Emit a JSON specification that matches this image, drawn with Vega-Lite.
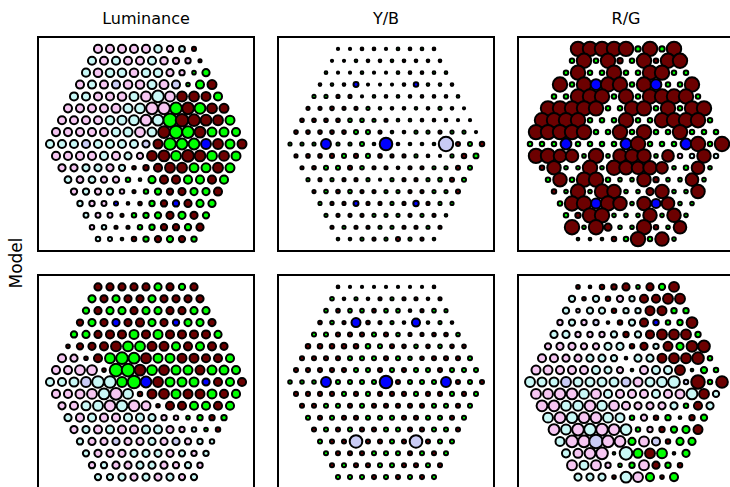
{
"$schema": "https://vega.github.io/schema/vega-lite/v6.json",
"padding": {"left": 8, "top": 11, "right": 0, "bottom": 0},
"background": "white",
"data": {"values": [
{"r":0,"x":-4,"t":"L","a":-9,"b":2.5,"c":16,"d":8,"e":3,"f":4},
{"r":0,"x":-3,"t":"L","a":-9,"b":2.5,"c":16,"d":8,"e":2.5,"f":3},
{"r":0,"x":-2,"t":"L","a":-9,"b":3,"c":16,"d":8,"e":2.5,"f":5},
{"r":0,"x":-1,"t":"L","a":-9,"b":3,"c":16,"d":8,"e":2.5,"f":6},
{"r":0,"x":0,"t":"L","a":-9,"b":2.5,"c":16,"d":8,"e":2.5,"f":8},
{"r":0,"x":1,"t":"M","a":-8.5,"b":3,"c":6,"d":8,"e":2.5,"f":4},
{"r":0,"x":2,"t":"L","a":-7,"b":3,"c":16,"d":8,"e":2.5,"f":8},
{"r":0,"x":3,"t":"M","a":-6.5,"b":3,"c":6,"d":7,"e":2.5,"f":7},
{"r":0,"x":4,"t":"L","a":4.5,"b":3,"c":16,"d":8,"e":3,"f":11},
{"r":1,"x":-4.5,"t":"M","a":-9,"b":2.5,"c":5,"d":8,"e":4,"f":-7},
{"r":1,"x":-3.5,"t":"L","a":-9,"b":2.5,"c":16,"d":8,"e":3,"f":4},
{"r":1,"x":-2.5,"t":"M","a":-9,"b":3,"c":5,"d":8,"e":3.5,"f":-7},
{"r":1,"x":-1.5,"t":"L","a":-9,"b":3,"c":16,"d":8,"e":3,"f":5},
{"r":1,"x":-0.5,"t":"L","a":-9,"b":3,"c":6,"d":8,"e":3.5,"f":-7},
{"r":1,"x":0.5,"t":"M","a":-9,"b":3,"c":5,"d":8,"e":3.5,"f":-6},
{"r":1,"x":1.5,"t":"L","a":-8.5,"b":3,"c":16,"d":8,"e":3.5,"f":9},
{"r":1,"x":2.5,"t":"L","a":-7,"b":3,"c":5,"d":8,"e":3.5,"f":9},
{"r":1,"x":3.5,"t":"L","a":-6,"b":3,"c":16,"d":8,"e":3,"f":11},
{"r":1,"x":4.5,"t":"L","a":3.5,"b":3,"c":16,"d":8,"e":3.5,"f":11},
{"r":2,"x":-5,"t":"M","a":-9,"b":3,"c":5,"d":7,"e":4,"f":-7},
{"r":2,"x":-4,"t":"L","a":-9.5,"b":2.5,"c":16,"d":8,"e":4,"f":-4},
{"r":2,"x":-3,"t":"M","a":-9.5,"b":2.5,"c":5,"d":8,"e":4,"f":-7},
{"r":2,"x":-2,"t":"M","a":-9.5,"b":3,"c":5,"d":8,"e":4,"f":-7},
{"r":2,"x":-1,"t":"L","a":-9.5,"b":2.5,"c":16,"d":8,"e":4,"f":5},
{"r":2,"x":0,"t":"M","a":-9.5,"b":2.5,"c":5,"d":8,"e":4,"f":-6},
{"r":2,"x":1,"t":"M","a":-9.5,"b":3,"c":5,"d":8,"e":4,"f":-6},
{"r":2,"x":2,"t":"L","a":-8,"b":3,"c":16,"d":8,"e":3,"f":10},
{"r":2,"x":3,"t":"L","a":-6,"b":3,"c":16,"d":8,"e":3.5,"f":10},
{"r":2,"x":4,"t":"M","a":4,"b":3,"c":5,"d":8,"e":4,"f":6},
{"r":2,"x":5,"t":"M","a":8,"b":3,"c":5,"d":8,"e":3.5,"f":6},
{"r":3,"x":-5.5,"t":"L","a":-9,"b":3,"c":16,"d":7,"e":4,"f":-6},
{"r":3,"x":-4.5,"t":"M","a":-9,"b":3,"c":5,"d":8,"e":4,"f":-7},
{"r":3,"x":-3.5,"t":"L","a":-9,"b":3,"c":16,"d":8,"e":3.5,"f":-6},
{"r":3,"x":-2.5,"t":"S","a":-9,"b":5.5,"c":12,"d":8,"e":10,"f":-6},
{"r":3,"x":-1.5,"t":"L","a":-9.5,"b":2.5,"c":16,"d":8,"e":4,"f":3},
{"r":3,"x":-0.5,"t":"L","a":-9.5,"b":2.5,"c":16,"d":9,"e":3.5,"f":5},
{"r":3,"x":0.5,"t":"M","a":-10,"b":2.5,"c":5,"d":8,"e":3.5,"f":-7},
{"r":3,"x":1.5,"t":"L","a":-10,"b":3,"c":16,"d":8,"e":3,"f":9},
{"r":3,"x":2.5,"t":"S","a":-9,"b":5,"c":12,"d":7,"e":9,"f":6},
{"r":3,"x":3.5,"t":"M","a":4,"b":3,"c":5,"d":8,"e":3,"f":5},
{"r":3,"x":4.5,"t":"M","a":9,"b":3,"c":5,"d":8,"e":3.5,"f":6},
{"r":3,"x":5.5,"t":"L","a":10,"b":3,"c":16,"d":8,"e":3,"f":12},
{"r":4,"x":-6,"t":"M","a":-9,"b":3.5,"c":5,"d":7,"e":4.5,"f":-8},
{"r":4,"x":-5,"t":"M","a":-9,"b":3.5,"c":5,"d":8,"e":4.5,"f":-8},
{"r":4,"x":-4,"t":"L","a":-9,"b":3.5,"c":16,"d":8,"e":4.5,"f":-6},
{"r":4,"x":-3,"t":"L","a":-9,"b":3.5,"c":16,"d":9,"e":4.5,"f":-6},
{"r":4,"x":-2,"t":"L","a":-9.5,"b":2.5,"c":16,"d":9,"e":4.5,"f":-6},
{"r":4,"x":-1,"t":"M","a":-10,"b":3,"c":5,"d":10,"e":4.5,"f":-7},
{"r":4,"x":0,"t":"L","a":-11,"b":3,"c":16,"d":9,"e":4.5,"f":6},
{"r":4,"x":1,"t":"M","a":-13,"b":3,"c":5,"d":10,"e":4,"f":-7},
{"r":4,"x":2,"t":"L","a":-11,"b":3,"c":16,"d":9,"e":3.5,"f":9},
{"r":4,"x":3,"t":"L","a":11,"b":3,"c":16,"d":9,"e":3.5,"f":11},
{"r":4,"x":4,"t":"L","a":11,"b":3,"c":16,"d":9,"e":4,"f":11},
{"r":4,"x":5,"t":"L","a":10,"b":3,"c":16,"d":9,"e":4,"f":11},
{"r":4,"x":6,"t":"M","a":9,"b":3,"c":5,"d":8,"e":4,"f":6},
{"r":5,"x":-6.5,"t":"L","a":-9,"b":3.5,"c":16,"d":4,"e":5,"f":-7},
{"r":5,"x":-5.5,"t":"L","a":-9,"b":3.5,"c":16,"d":7,"e":5,"f":-8},
{"r":5,"x":-4.5,"t":"L","a":-9,"b":4,"c":16,"d":8,"e":5,"f":-8},
{"r":5,"x":-3.5,"t":"L","a":-9,"b":3.5,"c":16,"d":9,"e":5,"f":-7},
{"r":5,"x":-2.5,"t":"L","a":-10,"b":3.5,"c":16,"d":11,"e":5,"f":-7},
{"r":5,"x":-1.5,"t":"M","a":-10,"b":3.5,"c":5,"d":11,"e":5,"f":-8},
{"r":5,"x":-0.5,"t":"M","a":-11,"b":3,"c":5,"d":11,"e":4.5,"f":-8},
{"r":5,"x":0.5,"t":"L","a":-13,"b":3,"c":16,"d":10,"e":4.5,"f":5},
{"r":5,"x":1.5,"t":"L","a":-13,"b":3,"c":16,"d":10,"e":4,"f":8},
{"r":5,"x":2.5,"t":"M","a":13,"b":3,"c":5,"d":9,"e":4,"f":-6},
{"r":5,"x":3.5,"t":"L","a":13,"b":3,"c":16,"d":9,"e":4,"f":10},
{"r":5,"x":4.5,"t":"M","a":12,"b":3.5,"c":5,"d":9,"e":4,"f":8},
{"r":5,"x":5.5,"t":"L","a":11,"b":3,"c":16,"d":9,"e":4,"f":12},
{"r":5,"x":6.5,"t":"L","a":10,"b":2.5,"c":16,"d":8,"e":4,"f":13},
{"r":6,"x":-7,"t":"L","a":-9,"b":4,"c":16,"d":-9,"e":4.5,"f":-9},
{"r":6,"x":-6,"t":"L","a":-9,"b":4,"c":16,"d":-8,"e":4.5,"f":-9},
{"r":6,"x":-5,"t":"L","a":-9,"b":4,"c":16,"d":4,"e":4.5,"f":-8},
{"r":6,"x":-4,"t":"L","a":-9,"b":4,"c":16,"d":9,"e":4.5,"f":-8},
{"r":6,"x":-3,"t":"M","a":-9.5,"b":4,"c":5,"d":11,"e":4.5,"f":-8},
{"r":6,"x":-2,"t":"M","a":-10,"b":4,"c":5,"d":13,"e":4.5,"f":-8},
{"r":6,"x":-1,"t":"M","a":-11,"b":3.5,"c":5,"d":12,"e":4.5,"f":-7},
{"r":6,"x":0,"t":"L","a":-12,"b":3.5,"c":16,"d":11,"e":4.5,"f":3},
{"r":6,"x":1,"t":"M","a":-12,"b":3,"c":5,"d":10,"e":4.5,"f":-8},
{"r":6,"x":2,"t":"M","a":15,"b":3,"c":5,"d":10,"e":4,"f":-8},
{"r":6,"x":3,"t":"L","a":14,"b":3,"c":16,"d":10,"e":4,"f":10},
{"r":6,"x":4,"t":"L","a":13,"b":3,"c":16,"d":10,"e":4.5,"f":11},
{"r":6,"x":5,"t":"L","a":12,"b":3,"c":16,"d":9,"e":4.5,"f":11},
{"r":6,"x":6,"t":"L","a":11,"b":2.5,"c":16,"d":9,"e":4.5,"f":13},
{"r":6,"x":7,"t":"M","a":10,"b":2.5,"c":5,"d":9,"e":4.5,"f":5},
{"r":7,"x":-7.5,"t":"L","a":-9,"b":4,"c":16,"d":-9,"e":4.5,"f":-10},
{"r":7,"x":-6.5,"t":"L","a":-9,"b":4,"c":16,"d":-9,"e":4.5,"f":-10},
{"r":7,"x":-5.5,"t":"L","a":-9,"b":4,"c":16,"d":-11,"e":4.5,"f":-9},
{"r":7,"x":-4.5,"t":"L","a":-9,"b":4,"c":16,"d":-11,"e":4.5,"f":-9},
{"r":7,"x":-3.5,"t":"L","a":-9,"b":4,"c":16,"d":4,"e":4.5,"f":-9},
{"r":7,"x":-2.5,"t":"M","a":-9.5,"b":4.5,"c":5,"d":14,"e":4.5,"f":-9},
{"r":7,"x":-1.5,"t":"M","a":-10,"b":4.5,"c":5,"d":14,"e":4.5,"f":-8},
{"r":7,"x":-0.5,"t":"L","a":-11,"b":3.5,"c":16,"d":12,"e":4.5,"f":-7},
{"r":7,"x":0.5,"t":"M","a":-10,"b":3,"c":5,"d":11,"e":4.5,"f":3},
{"r":7,"x":1.5,"t":"L","a":13,"b":3,"c":16,"d":11,"e":4.5,"f":-9},
{"r":7,"x":2.5,"t":"M","a":14,"b":3.5,"c":5,"d":10,"e":4.5,"f":-9},
{"r":7,"x":3.5,"t":"M","a":13,"b":3.5,"c":5,"d":10,"e":4.5,"f":-9},
{"r":7,"x":4.5,"t":"L","a":12,"b":3.5,"c":16,"d":10,"e":4.5,"f":11},
{"r":7,"x":5.5,"t":"M","a":10,"b":3.5,"c":5,"d":10,"e":4.5,"f":3},
{"r":7,"x":6.5,"t":"M","a":10,"b":3.5,"c":5,"d":10,"e":4.5,"f":7},
{"r":7,"x":7.5,"t":"M","a":9,"b":2.5,"c":5,"d":9,"e":4.5,"f":5},
{"r":8,"x":-8,"t":"M","a":-9,"b":3.5,"c":5,"d":-9,"e":4,"f":-11},
{"r":8,"x":-7,"t":"M","a":-9,"b":3.5,"c":5,"d":-9,"e":4,"f":-10},
{"r":8,"x":-6,"t":"M","a":-9,"b":3.5,"c":5,"d":-10,"e":4,"f":-10},
{"r":8,"x":-5,"t":"S","a":-9,"b":11,"c":12,"d":-11,"e":11,"f":-11},
{"r":8,"x":-4,"t":"M","a":-9,"b":3.5,"c":5,"d":-13,"e":4.5,"f":-10},
{"r":8,"x":-3,"t":"M","a":-9,"b":3.5,"c":5,"d":-13,"e":4.5,"f":-10},
{"r":8,"x":-2,"t":"M","a":-9,"b":4.5,"c":5,"d":11,"e":4.5,"f":-10},
{"r":8,"x":-1,"t":"M","a":-9,"b":3,"c":5,"d":14,"e":4.5,"f":-10},
{"r":8,"x":0,"t":"S","a":-8,"b":14,"c":12,"d":12,"e":14,"f":-10},
{"r":8,"x":1,"t":"L","a":10,"b":3,"c":16,"d":11,"e":4.5,"f":-10},
{"r":8,"x":2,"t":"M","a":13,"b":3,"c":5,"d":10,"e":4.5,"f":-10},
{"r":8,"x":3,"t":"M","a":12,"b":3,"c":5,"d":10,"e":4.5,"f":-11},
{"r":8,"x":4,"t":"M","a":12,"b":3,"c":5,"d":10,"e":4.5,"f":-13},
{"r":8,"x":5,"t":"S","a":11,"b":-16,"c":12,"d":8,"e":11,"f":-5},
{"r":8,"x":6,"t":"L","a":11,"b":4.5,"c":16,"d":9,"e":4.5,"f":15},
{"r":8,"x":7,"t":"M","a":10,"b":4.5,"c":5,"d":9,"e":4.5,"f":5},
{"r":8,"x":8,"t":"L","a":10,"b":5,"c":16,"d":9,"e":4.5,"f":13},
{"r":9,"x":-7.5,"t":"L","a":-9,"b":3.5,"c":16,"d":-9,"e":4.5,"f":-11},
{"r":9,"x":-6.5,"t":"L","a":-9,"b":4,"c":16,"d":-9,"e":4.5,"f":-11},
{"r":9,"x":-5.5,"t":"L","a":-9,"b":4,"c":14,"d":-10,"e":4.5,"f":-12},
{"r":9,"x":-4.5,"t":"L","a":-9,"b":4.5,"c":14,"d":-11,"e":4.5,"f":-12},
{"r":9,"x":-3.5,"t":"M","a":-9,"b":4.5,"c":4,"d":-12,"e":4.5,"f":-11},
{"r":9,"x":-2.5,"t":"L","a":-9,"b":4.5,"c":16,"d":-13,"e":4.5,"f":-11},
{"r":9,"x":-1.5,"t":"M","a":-8,"b":4.5,"c":4,"d":-11,"e":4.5,"f":-9},
{"r":9,"x":-0.5,"t":"L","a":-7,"b":4,"c":15,"d":5,"e":4.5,"f":-9},
{"r":9,"x":0.5,"t":"L","a":11,"b":3.5,"c":15,"d":10,"e":4.5,"f":-9},
{"r":9,"x":1.5,"t":"L","a":12,"b":3.5,"c":15,"d":11,"e":4.5,"f":-9},
{"r":9,"x":2.5,"t":"M","a":11,"b":3.5,"c":4,"d":10,"e":4.5,"f":-9},
{"r":9,"x":3.5,"t":"L","a":13,"b":3,"c":13,"d":10,"e":4.5,"f":-9},
{"r":9,"x":4.5,"t":"L","a":12,"b":2.5,"c":-5,"d":10,"e":4.5,"f":-10},
{"r":9,"x":5.5,"t":"M","a":11,"b":3.5,"c":-5,"d":10,"e":4.5,"f":-12},
{"r":9,"x":6.5,"t":"L","a":11,"b":5,"c":15,"d":9,"e":4.5,"f":11},
{"r":9,"x":7.5,"t":"M","a":10,"b":5.5,"c":-5,"d":9,"e":4.5,"f":-7},
{"r":10,"x":-7,"t":"L","a":-8,"b":3.5,"c":5,"d":-8,"e":4.5,"f":-12},
{"r":10,"x":-6,"t":"L","a":-8,"b":4,"c":15,"d":-9,"e":4.5,"f":-12},
{"r":10,"x":-5,"t":"M","a":-8,"b":4.5,"c":4,"d":-10,"e":4.5,"f":-11},
{"r":10,"x":-4,"t":"M","a":-8,"b":4.5,"c":4,"d":-11,"e":4.5,"f":-11},
{"r":10,"x":-3,"t":"L","a":-8,"b":4.5,"c":16,"d":-12,"e":4.5,"f":-12},
{"r":10,"x":-2,"t":"M","a":-7,"b":4,"c":4,"d":-12,"e":4.5,"f":-11},
{"r":10,"x":-1,"t":"L","a":4,"b":3.5,"c":16,"d":-12,"e":4.5,"f":-11},
{"r":10,"x":0,"t":"L","a":6,"b":3.5,"c":15,"d":-10,"e":4.5,"f":-9},
{"r":10,"x":1,"t":"L","a":9,"b":3,"c":14,"d":4,"e":4.5,"f":-8},
{"r":10,"x":2,"t":"L","a":11,"b":3.5,"c":15,"d":9,"e":4.5,"f":-8},
{"r":10,"x":3,"t":"L","a":11,"b":3.5,"c":13,"d":9,"e":4.5,"f":-8},
{"r":10,"x":4,"t":"M","a":10,"b":3.5,"c":4,"d":9,"e":4.5,"f":-8},
{"r":10,"x":5,"t":"M","a":10,"b":3.5,"c":5,"d":9,"e":4.5,"f":5},
{"r":10,"x":6,"t":"L","a":11,"b":4.5,"c":14,"d":9,"e":4.5,"f":9},
{"r":10,"x":7,"t":"M","a":10,"b":4.5,"c":4,"d":9,"e":4.5,"f":-8},
{"r":11,"x":-6.5,"t":"M","a":-7.5,"b":3.5,"c":5,"d":-8,"e":4.5,"f":-11},
{"r":11,"x":-5.5,"t":"L","a":-7.5,"b":3.5,"c":15,"d":-9,"e":4.5,"f":-12},
{"r":11,"x":-4.5,"t":"M","a":-7.5,"b":3.5,"c":5,"d":-9,"e":4.5,"f":-12},
{"r":11,"x":-3.5,"t":"L","a":-7,"b":3.5,"c":16,"d":-9,"e":4.5,"f":-12},
{"r":11,"x":-2.5,"t":"L","a":-7,"b":3.5,"c":16,"d":-9,"e":4.5,"f":-12},
{"r":11,"x":-1.5,"t":"M","a":5,"b":3.5,"c":5,"d":-9,"e":4.5,"f":-11},
{"r":11,"x":-0.5,"t":"M","a":3,"b":2.5,"c":4,"d":-9,"e":4.5,"f":-10},
{"r":11,"x":0.5,"t":"M","a":8,"b":3.5,"c":4,"d":-8,"e":4.5,"f":5},
{"r":11,"x":1.5,"t":"L","a":9,"b":3.5,"c":15,"d":-6,"e":4.5,"f":-7},
{"r":11,"x":2.5,"t":"L","a":9,"b":3.5,"c":6,"d":-5,"e":4.5,"f":5},
{"r":11,"x":3.5,"t":"M","a":9,"b":3.5,"c":4,"d":4,"e":4.5,"f":6},
{"r":11,"x":4.5,"t":"M","a":9,"b":4,"c":4,"d":6,"e":4.5,"f":3},
{"r":11,"x":5.5,"t":"L","a":9,"b":4.5,"c":14,"d":6,"e":4.5,"f":6},
{"r":11,"x":6.5,"t":"M","a":9,"b":4.5,"c":4,"d":6,"e":4.5,"f":7},
{"r":12,"x":-6,"t":"L","a":-7,"b":3.5,"c":5,"d":-8,"e":4.5,"f":-12},
{"r":12,"x":-5,"t":"M","a":-7,"b":4,"c":4,"d":-8,"e":4.5,"f":-11},
{"r":12,"x":-4,"t":"L","a":-7,"b":4,"c":16,"d":-9,"e":4.5,"f":-13},
{"r":12,"x":-3,"t":"M","a":-7,"b":4,"c":4,"d":-9,"e":4.5,"f":-13},
{"r":12,"x":-2,"t":"L","a":-5,"b":3.5,"c":16,"d":-9,"e":4.5,"f":-13},
{"r":12,"x":-1,"t":"L","a":3.5,"b":3.5,"c":15,"d":-9,"e":4.5,"f":-12},
{"r":12,"x":0,"t":"M","a":5,"b":3.5,"c":4,"d":-9,"e":4.5,"f":-12},
{"r":12,"x":1,"t":"M","a":7,"b":3.5,"c":4,"d":-9,"e":4.5,"f":5},
{"r":12,"x":2,"t":"L","a":7,"b":3.5,"c":8,"d":-8,"e":4.5,"f":-6},
{"r":12,"x":3,"t":"L","a":8,"b":3.5,"c":15,"d":-6,"e":4.5,"f":6},
{"r":12,"x":4,"t":"M","a":8,"b":3.5,"c":4,"d":-5,"e":4.5,"f":7},
{"r":12,"x":5,"t":"M","a":8,"b":3.5,"c":4,"d":4,"e":4.5,"f":8},
{"r":12,"x":6,"t":"L","a":9,"b":4.5,"c":15,"d":5,"e":4.5,"f":10},
{"r":13,"x":-5.5,"t":"M","a":-6,"b":3.5,"c":5,"d":-7,"e":4.5,"f":-10},
{"r":13,"x":-4.5,"t":"L","a":-6,"b":3.5,"c":16,"d":-8,"e":4.5,"f":-13},
{"r":13,"x":-3.5,"t":"L","a":-5.5,"b":3.5,"c":16,"d":-8,"e":4.5,"f":-13},
{"r":13,"x":-2.5,"t":"S","a":4.5,"b":5.5,"c":11,"d":-8,"e":-14,"f":-15},
{"r":13,"x":-1.5,"t":"L","a":3,"b":3.5,"c":16,"d":-8,"e":4.5,"f":-13},
{"r":13,"x":-0.5,"t":"L","a":4,"b":3.5,"c":15,"d":-8,"e":4.5,"f":-12},
{"r":13,"x":0.5,"t":"M","a":6,"b":3.5,"c":4,"d":-8,"e":4.5,"f":8},
{"r":13,"x":1.5,"t":"L","a":7,"b":3.5,"c":15,"d":-8,"e":4.5,"f":-11},
{"r":13,"x":2.5,"t":"S","a":7,"b":6,"c":10,"d":-8,"e":-14,"f":-9},
{"r":13,"x":3.5,"t":"L","a":8,"b":3.5,"c":14,"d":-7,"e":4.5,"f":5},
{"r":13,"x":4.5,"t":"M","a":8,"b":3.5,"c":4,"d":-6,"e":4.5,"f":8},
{"r":13,"x":5.5,"t":"M","a":8,"b":3.5,"c":4,"d":-5,"e":4.5,"f":8},
{"r":14,"x":-5,"t":"M","a":-5.5,"b":3.5,"c":5,"d":-7,"e":4.5,"f":-9},
{"r":14,"x":-4,"t":"L","a":-5.5,"b":3.5,"c":6,"d":-8,"e":4.5,"f":-10},
{"r":14,"x":-3,"t":"L","a":-5.5,"b":3.5,"c":16,"d":-8,"e":4.5,"f":-12},
{"r":14,"x":-2,"t":"L","a":3.5,"b":3.5,"c":16,"d":-8,"e":4.5,"f":-13},
{"r":14,"x":-1,"t":"M","a":5,"b":3.5,"c":4,"d":-8,"e":4.5,"f":3},
{"r":14,"x":0,"t":"M","a":6,"b":3.5,"c":4,"d":-8,"e":4.5,"f":-14},
{"r":14,"x":1,"t":"M","a":7,"b":3.5,"c":4,"d":-8,"e":4.5,"f":10},
{"r":14,"x":2,"t":"L","a":8,"b":3.5,"c":15,"d":-8,"e":4.5,"f":11},
{"r":14,"x":3,"t":"M","a":8,"b":3.5,"c":4,"d":-7,"e":4.5,"f":11},
{"r":14,"x":4,"t":"L","a":8,"b":3.5,"c":15,"d":-6,"e":4.5,"f":3},
{"r":14,"x":5,"t":"M","a":7,"b":3,"c":4,"d":-6,"e":4.5,"f":8},
{"r":15,"x":-4.5,"t":"L","a":-5,"b":3.5,"c":16,"d":-7,"e":4.5,"f":-11},
{"r":15,"x":-3.5,"t":"M","a":-5,"b":3.5,"c":4,"d":-7,"e":4.5,"f":-10},
{"r":15,"x":-2.5,"t":"L","a":3.5,"b":3.5,"c":16,"d":-8,"e":4.5,"f":-11},
{"r":15,"x":-1.5,"t":"L","a":3.5,"b":3.5,"c":8,"d":-8,"e":4.5,"f":-6},
{"r":15,"x":-0.5,"t":"M","a":5,"b":3.5,"c":4,"d":-8,"e":4.5,"f":4},
{"r":15,"x":0.5,"t":"M","a":6,"b":3.5,"c":4,"d":-8,"e":4.5,"f":6},
{"r":15,"x":1.5,"t":"L","a":7,"b":3.5,"c":16,"d":-8,"e":4.5,"f":-11},
{"r":15,"x":2.5,"t":"L","a":7,"b":3.5,"c":5,"d":-7,"e":4.5,"f":8},
{"r":15,"x":3.5,"t":"M","a":7,"b":3.5,"c":4,"d":-7,"e":4.5,"f":6},
{"r":15,"x":4.5,"t":"L","a":8,"b":3.5,"c":14,"d":-6,"e":4.5,"f":5},
{"r":16,"x":-4,"t":"M","a":-5,"b":3,"c":3,"d":-7,"e":4.5,"f":-8},
{"r":16,"x":-3,"t":"M","a":-4.5,"b":3,"c":3,"d":-7,"e":4.5,"f":-8},
{"r":16,"x":-2,"t":"M","a":3,"b":3.5,"c":3,"d":-8,"e":4.5,"f":-8},
{"r":16,"x":-1,"t":"L","a":5,"b":3.5,"c":5,"d":-8,"e":4.5,"f":4},
{"r":16,"x":0,"t":"M","a":6,"b":3.5,"c":5,"d":-8,"e":4.5,"f":-12},
{"r":16,"x":1,"t":"L","a":7,"b":4.5,"c":16,"d":-8,"e":4.5,"f":-11},
{"r":16,"x":2,"t":"M","a":7,"b":3.5,"c":5,"d":-8,"e":4.5,"f":9},
{"r":16,"x":3,"t":"L","a":7,"b":3.5,"c":15,"d":-7,"e":4.5,"f":4},
{"r":16,"x":4,"t":"M","a":6,"b":3,"c":4,"d":-7,"e":4.5,"f":9}
]},
"transform": [
  {"fold": ["a","b","c","d","e","f"], "as": ["k","v"]},
  {"lookup": "k", "from": {"data": {"values": [
    {"k":"a","col":"Luminance","row":"top"},
    {"k":"b","col":"Y/B","row":"top"},
    {"k":"c","col":"R/G","row":"top"},
    {"k":"d","col":"Luminance","row":"bottom"},
    {"k":"e","col":"Y/B","row":"bottom"},
    {"k":"f","col":"R/G","row":"bottom"}
  ]}, "key": "k", "fields": ["col","row"]}}
],
"facet": {
  "column": {"field": "col", "type": "nominal", "sort": ["Luminance","Y/B","R/G"],
    "header": {"title": null, "labelFont": "DejaVu Sans", "labelFontSize": 16, "labelColor": "black", "labelPadding": 9}},
  "row": {"field": "row", "type": "nominal", "sort": ["top","bottom"],
    "header": {"title": "Model", "titleFont": "DejaVu Sans", "titleFontSize": 17, "titleFontWeight": "normal", "titleColor": "black", "labels": false, "titlePadding": 1}}
},
"spacing": {"row": 22, "column": 22},
"spec": {
  "width": 216,
  "height": 214,
  "layer": [
    {
      "transform": [{"filter": {"field": "v", "gt": 0}}],
      "mark": {"type": "circle", "stroke": "black", "strokeWidth": 2, "opacity": 1},
      "encoding": {
        "x": {"field": "x", "type": "quantitative", "scale": {"domain": [-9, 9], "nice": false}, "axis": null},
        "y": {"field": "r", "type": "quantitative", "scale": {"domain": [-1, 17], "nice": false, "reverse": true}, "axis": null},
        "size": {"field": "v", "type": "quantitative", "scale": {"type": "pow", "exponent": 2, "domain": [0, 17], "range": [0, 234], "nice": false}, "legend": null},
        "color": {"field": "t", "type": "nominal", "scale": {"domain": ["L","M","S"], "range": ["#6c0000","#00ff00","#0000ff"]}, "legend": null}
      }
    },
    {
      "transform": [{"filter": {"field": "v", "lt": 0}}],
      "mark": {"type": "circle", "stroke": "black", "strokeWidth": 2, "opacity": 1},
      "encoding": {
        "x": {"field": "x", "type": "quantitative", "scale": {"domain": [-9, 9], "nice": false}, "axis": null},
        "y": {"field": "r", "type": "quantitative", "scale": {"domain": [-1, 17], "nice": false, "reverse": true}, "axis": null},
        "size": {"field": "v", "type": "quantitative", "scale": {"type": "pow", "exponent": 2, "domain": [0, -17], "range": [0, 234], "nice": false}, "legend": null},
        "color": {"field": "t", "type": "nominal", "scale": {"domain": ["L","M","S"], "range": ["#f6c6f2","#c8f8f6","#c9cbf5"]}, "legend": null}
      }
    }
  ],
  "resolve": {"scale": {"size": "independent", "color": "independent"}}
},
"config": {
  "view": {"stroke": "black", "strokeWidth": 2},
  "font": "DejaVu Sans"
}
}
